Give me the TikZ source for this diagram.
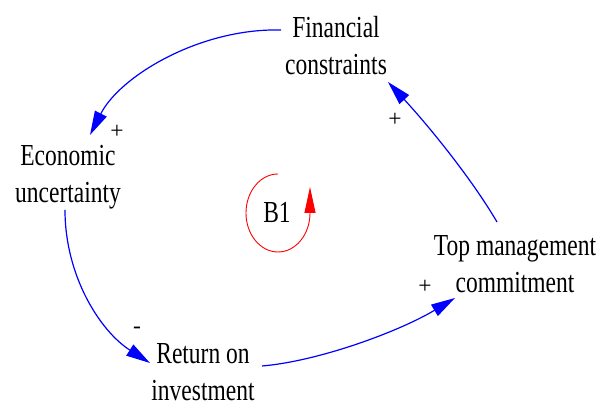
\documentclass[tikz,border=0pt]{standalone}
\usepackage{fontspec}
\setmainfont{Liberation Serif}
\usetikzlibrary{arrows.meta}
\newcommand{\tl}[1]{\scalebox{1}[1.3]{#1}}
\tikzset{
  var/.style={inner sep=0pt, align=center, font=\fontsize{23.5}{37}\selectfont},
  sgn/.style={inner sep=0pt, font=\fontsize{23.5}{28}\selectfont},
  link/.style={draw=blue, line width=1.2pt, -{Triangle[length=24pt,width=13pt]}},
  loopc/.style={draw=red, line width=0.9pt, -{Triangle[length=26pt,width=11pt]}}
}
\begin{document}
\begin{tikzpicture}[x=1pt,y=1pt]
\useasboundingbox (0,0) rectangle (603,406);
\node[var] (fin) at (336,360) {\tl{Financial}\\\tl{constraints}};
\node[var] (eco) at (68,229) {\tl{Economic}\\\tl{uncertainty}};
\node[var] (top) at (515,142) {\tl{Top management}\\\tl{commitment}};
\node[var] (roi) at (203,34) {\tl{Return on}\\\tl{investment}};
\node[var] (b1) at (277,194) {\tl{B1}};
\draw[link] ([shift={(-55,16)}]fin.center) .. controls +(-81,2) and +(30,59) .. ([shift={(22,42)}]eco.center);
\draw[link] ([shift={(-3,-33)}]eco.center) .. controls +(0,-66) and +(-50,32) .. ([shift={(-53,9)}]roi.center);
\draw[link] ([shift={(59,6)}]roi.center) .. controls +(58,5) and +(-55,-33) .. ([shift={(-60,-34)}]top.center);
\draw[link] ([shift={(-18,42)}]top.center) .. controls +(-27,46) and +(38,-41) .. ([shift={(52,-36)}]fin.center);
\draw[loopc] ([shift={(1,38)}]b1.center) arc[start angle=90, end angle=360, x radius=32, y radius=39] -- ++(0,26);
\node[sgn] (s1) at (117,274) {+};
\node[sgn] (s2) at (137,76) {-};
\node[sgn] (s3) at (425,119) {+};
\node[sgn] (s4) at (395,286) {+};
\end{tikzpicture}
\end{document}
